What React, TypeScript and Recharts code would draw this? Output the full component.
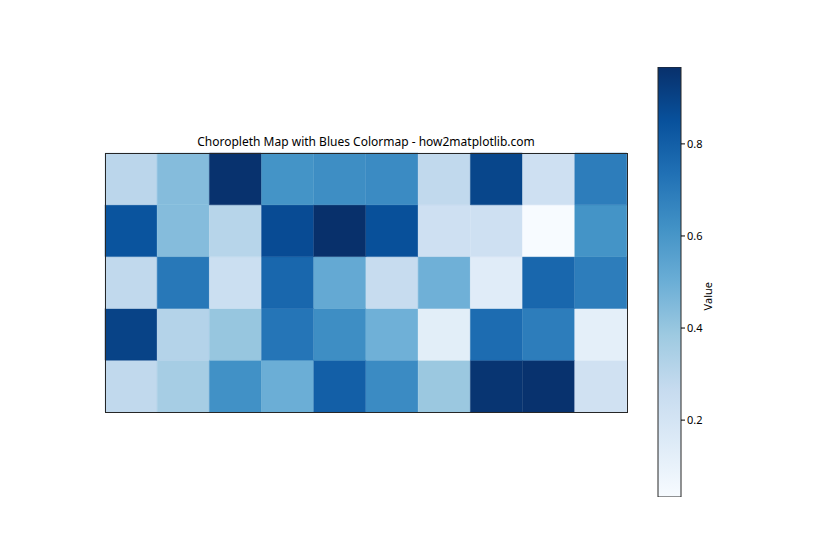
import { Bar, BarChart, Cell, XAxis, YAxis } from 'recharts'

// grid cells (top row first)
const columns = ['c1', 'c2', 'c3', 'c4', 'c5', 'c6', 'c7', 'c8', 'c9', 'c10']
const row1 = [0.3, 0.44, 0.96, 0.61, 0.63, 0.64, 0.28, 0.89, 0.23, 0.69]
const row2 = [0.84, 0.44, 0.31, 0.87, 0.967, 0.855, 0.23, 0.23, 0.033, 0.61]
const row3 = [0.28, 0.71, 0.24, 0.77, 0.52, 0.26, 0.49, 0.14, 0.77, 0.69]
const row4 = [0.9, 0.32, 0.4, 0.72, 0.63, 0.49, 0.13, 0.75, 0.69, 0.12]
const row5 = [0.28, 0.36, 0.62, 0.5, 0.8, 0.64, 0.39, 0.95, 0.96, 0.22]
const colorbarTicks = [0.2, 0.4, 0.6, 0.8]

const rows = [row1, row2, row3, row4, row5]
const vmin = 0.033
const vmax = 0.967

const blues = ['#f7fbff', '#deebf7', '#c6dbef', '#9ecae1', '#6baed6', '#4292c6', '#2171b5', '#08519c', '#08306b']

function hexToRgb(h: string) {
  return [1, 3, 5].map((i) => parseInt(h.slice(i, i + 2), 16))
}

function bluesColor(v: number) {
  const t = Math.max(0, Math.min(1, (v - vmin) / (vmax - vmin)))
  const pos = t * (blues.length - 1)
  const i = Math.min(Math.floor(pos), blues.length - 2)
  const f = pos - i
  const a = hexToRgb(blues[i])
  const b = hexToRgb(blues[i + 1])
  const c = a.map((x, k) => Math.round(x + (b[k] - x) * f))
  return `rgb(${c[0]},${c[1]},${c[2]})`
}

const data = columns.map((col) => {
  const d: Record<string, string | number> = { col }
  rows.forEach((_, r) => {
    d[`r${r + 1}`] = 1
  })
  return d
})

const colorbarData = [{ name: 'bar', range: [vmin, vmax] }]

const font = '"Noto Sans", "DejaVu Sans", sans-serif'

export default function App() {
  // bottom row first so the stack builds upward
  const order = [4, 3, 2, 1, 0]
  // gradient runs top (dark) to bottom (light), offsets must increase
  const stops = [...blues].reverse()

  return (
    <div style={{ position: 'fixed', left: 0, top: 0, width: 840, height: 560, background: '#fff', fontFamily: font }}>
      <div style={{ position: 'absolute', left: 0, top: 0 }}>
        <BarChart
          width={840}
          height={560}
          data={data}
          barCategoryGap={0}
          barGap={0}
          margin={{ top: 153, right: 213, left: 105, bottom: 148 }}
        >
          <XAxis dataKey="col" hide />
          <YAxis type="number" domain={[0, 5]} hide />
          {order.map((r) => (
            <Bar key={r} dataKey={`r${r + 1}`} stackId="grid" isAnimationActive={false}>
              {rows[r].map((v, i) => (
                <Cell key={i} fill={bluesColor(v)} stroke={bluesColor(v)} strokeWidth={0.5} />
              ))}
            </Bar>
          ))}
        </BarChart>
      </div>

      <div
        style={{
          position: 'absolute',
          left: 105,
          top: 153,
          width: 521,
          height: 258,
          border: '1px solid #262626',
          pointerEvents: 'none',
        }}
      />

      <div
        style={{
          position: 'absolute',
          left: 105,
          width: 522,
          top: 133,
          textAlign: 'center',
          fontSize: 12,
          color: '#000',
        }}
      >
        Choropleth Map with Blues Colormap - how2matplotlib.com
      </div>

      <div style={{ position: 'absolute', left: 0, top: 0 }}>
        <BarChart
          width={840}
          height={560}
          data={colorbarData}
          barCategoryGap={0}
          margin={{ top: 67, right: 119, left: 658, bottom: 63 }}
        >
          <defs>
            <linearGradient id="bluesGrad" x1="0" y1="0" x2="0" y2="1">
              {stops.map((c, i) => (
                <stop key={c} offset={`${(i * 100) / (stops.length - 1)}%`} stopColor={c} />
              ))}
            </linearGradient>
          </defs>
          <XAxis dataKey="name" hide />
          <YAxis
            type="number"
            orientation="right"
            domain={[vmin, vmax]}
            allowDataOverflow
            ticks={colorbarTicks}
            tickFormatter={(v: number) => v.toFixed(1)}
            axisLine={false}
            tickLine={{ stroke: '#000' }}
            tickSize={4}
            width={40}
            tick={{ fontSize: 11, fill: '#000', fontFamily: font }}
            label={{ value: 'Value', angle: -90, position: 'insideRight', offset: 13, fontSize: 11, fill: '#000', fontFamily: font }}
          />
          <Bar dataKey="range" fill="url(#bluesGrad)" stroke="#262626" strokeWidth={1} isAnimationActive={false} />
        </BarChart>
      </div>
    </div>
  )
}
